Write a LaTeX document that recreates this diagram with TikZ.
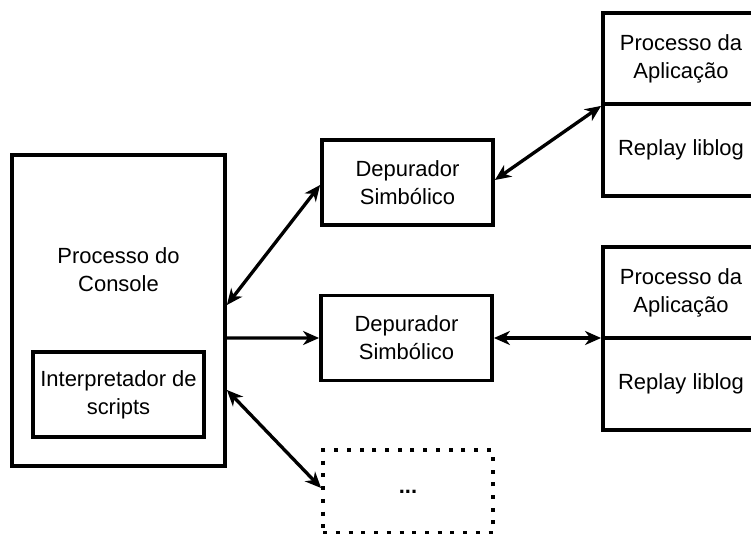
\documentclass[tikz,border=0pt]{standalone}
\usepackage{fontspec}
\setmainfont{Liberation Sans}
\usetikzlibrary{arrows.meta}
\begin{document}
\begin{tikzpicture}[x=0.02cm,y=-0.02cm,
    caixa/.style={draw, line width=2.2pt, align=center, inner sep=0pt,
      font=\fontsize{12.5}{16}\selectfont},
    texto/.style={align=center, font=\fontsize{12.5}{16}\selectfont},
    ponta/.tip={Stealth[length=0.32cm,width=0.28cm,inset=0.1cm]},
    seta/.style={line width=1.9pt, -ponta},
    setadupla/.style={line width=1.9pt, ponta-ponta}]
            \useasboundingbox (0,0) rectangle (751,534);
            \clip (0,0) rectangle (751,534);

            \node[caixa, minimum width=4.26cm, minimum height=6.22cm] (C) at (118.5,310.5) {};
            \node[texto] (T) at (118.5,269.5) {Processo do\\Console};
            \node[caixa, minimum width=3.42cm, minimum height=1.7cm] (I) at (118.5,394.5) {Interpretador de\\scripts};

            \node[caixa, minimum width=3.42cm, minimum height=1.7cm] (D1) at (407.5,182.5) {Depurador\\Simbólico};
            \node[caixa, minimum width=3.42cm, minimum height=1.7cm] (D2) at (406.5,338) {Depurador\\Simbólico};
            \node[caixa, dash pattern=on 0.08cm off 0.175cm, minimum width=3.4cm, minimum height=1.66cm] (X) at (408,491.5) {\textbf{...}};

            \node[caixa, minimum width=3.12cm, minimum height=1.82cm] (P1) at (681,58.5) {Processo da\\Aplicação};
            \node[caixa, minimum width=3.12cm, minimum height=1.84cm] (R1) at (681,150) {Replay liblog};
            \node[caixa, minimum width=3.12cm, minimum height=1.82cm] (P2) at (681,292.5) {Processo da\\Aplicação};
            \node[caixa, minimum width=3.12cm, minimum height=1.84cm] (R2) at (681,384) {Replay liblog};

            \draw[setadupla] ([yshift=0.11cm]C.east) -- ([yshift=-0.05cm]D1.west);
            \draw[setadupla] ([yshift=0.05cm]D1.east) -- (P1.south west);
            \draw[seta] ([yshift=-0.55cm]C.east) -- (D2.west);
            \draw[setadupla] (D2.east) -- (P2.south west |- D2.east);
            \draw[setadupla] ([yshift=-1.59cm]C.east) -- ([yshift=0.07cm]X.west);
          \end{tikzpicture}
\end{document}
